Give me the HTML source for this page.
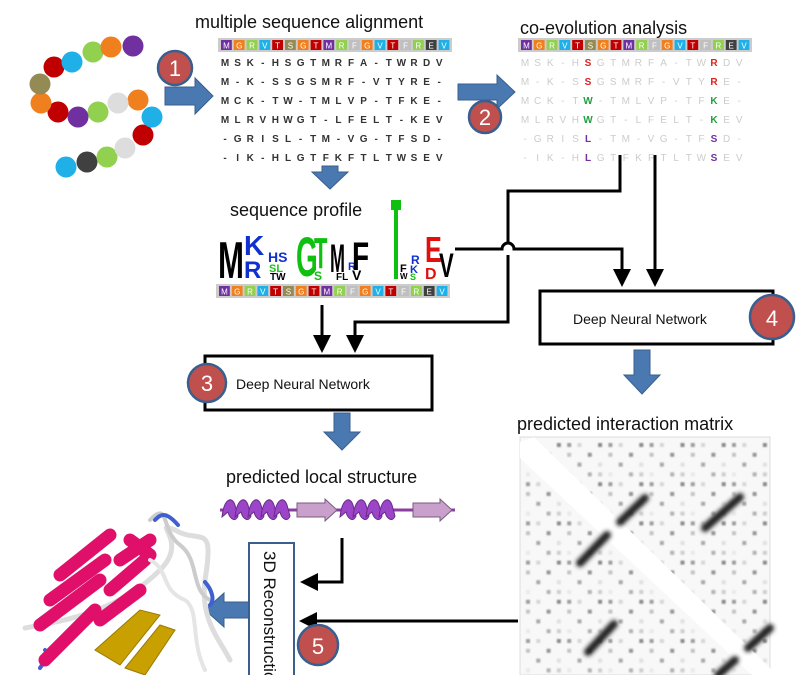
<!DOCTYPE html>
<html><head><meta charset="utf-8"><style>
html,body{margin:0;padding:0;background:#fff;width:809px;height:675px;overflow:hidden}
svg{display:block}
text{font-family:"Liberation Sans",sans-serif}
</style></head><body>
<svg width="809" height="675" viewBox="0 0 809 675" xmlns="http://www.w3.org/2000/svg">
<defs>
<marker id="ah" markerWidth="6" markerHeight="6" refX="5" refY="3" orient="auto" markerUnits="strokeWidth"><path d="M0,0 L6,3 L0,6 z" fill="#000"/></marker>
<filter id="bl" x="-20%" y="-20%" width="140%" height="140%"><feGaussianBlur stdDeviation="0.9"/></filter>
<filter id="bl2" x="-30%" y="-30%" width="160%" height="160%"><feGaussianBlur stdDeviation="2"/></filter>
<pattern id="dots" x="526" y="443" width="41.2" height="39.2" patternUnits="userSpaceOnUse">
<rect x="0" y="0" width="4" height="4" fill="#555"/><rect x="10.3" y="0" width="4" height="4" fill="#bbb"/><rect x="30.9" y="0" width="4" height="4" fill="#333"/>
<rect x="0" y="9.8" width="4" height="4" fill="#999"/><rect x="20.6" y="9.8" width="4" height="4" fill="#444"/>
<rect x="10.3" y="19.6" width="4" height="4" fill="#666"/><rect x="30.9" y="19.6" width="4" height="4" fill="#ccc"/>
<rect x="0" y="29.4" width="4" height="4" fill="#ddd"/><rect x="20.6" y="29.4" width="4" height="4" fill="#777"/><rect x="30.9" y="29.4" width="4" height="4" fill="#aaa"/>
</pattern>
</defs>

<!-- titles -->
<text x="195" y="28" font-size="18" fill="#111">multiple sequence alignment</text>
<text x="520" y="34" font-size="18" fill="#111">co-evolution analysis</text>
<text x="230" y="216" font-size="18" fill="#111">sequence profile</text>
<text x="226" y="483" font-size="18" fill="#111">predicted local structure</text>
<text x="517" y="430" font-size="18" fill="#111">predicted interaction matrix</text>

<!-- colour bars -->
<g transform="translate(220,40)">
<rect x="-2" y="-2" width="234" height="14" fill="#ccc"/>
<rect x="1" width="10.8" height="10" fill="#7030a0"/><rect x="13.8" width="10.8" height="10" fill="#f07f1e"/><rect x="26.6" width="10.8" height="10" fill="#92d050"/><rect x="39.4" width="10.8" height="10" fill="#1fb0e8"/><rect x="52.2" width="10.8" height="10" fill="#c00000"/><rect x="65" width="10.8" height="10" fill="#948a54"/><rect x="77.8" width="10.8" height="10" fill="#f07f1e"/><rect x="90.6" width="10.8" height="10" fill="#c00000"/><rect x="103.4" width="10.8" height="10" fill="#7030a0"/><rect x="116.2" width="10.8" height="10" fill="#92d050"/><rect x="129" width="10.8" height="10" fill="#bfbfbf"/><rect x="141.8" width="10.8" height="10" fill="#f07f1e"/><rect x="154.6" width="10.8" height="10" fill="#1fb0e8"/><rect x="167.4" width="10.8" height="10" fill="#c00000"/><rect x="180.2" width="10.8" height="10" fill="#bfbfbf"/><rect x="193" width="10.8" height="10" fill="#92d050"/><rect x="205.8" width="10.8" height="10" fill="#404040"/><rect x="218.6" width="10.8" height="10" fill="#1fb0e8"/>
<text y="8.5" font-size="8" fill="#fff" text-anchor="middle" x="6.4 19.2 32 44.8 57.6 70.4 83.2 96 108.8 121.6 134.4 147.2 160 172.8 185.6 198.4 211.2 224">MGRVTSGTMRFGVTFREV</text>
</g>
<g transform="translate(520,40)">
<rect x="-2" y="-2" width="234" height="14" fill="#ccc"/>
<rect x="1" width="10.8" height="10" fill="#7030a0"/><rect x="13.8" width="10.8" height="10" fill="#f07f1e"/><rect x="26.6" width="10.8" height="10" fill="#92d050"/><rect x="39.4" width="10.8" height="10" fill="#1fb0e8"/><rect x="52.2" width="10.8" height="10" fill="#c00000"/><rect x="65" width="10.8" height="10" fill="#948a54"/><rect x="77.8" width="10.8" height="10" fill="#f07f1e"/><rect x="90.6" width="10.8" height="10" fill="#c00000"/><rect x="103.4" width="10.8" height="10" fill="#7030a0"/><rect x="116.2" width="10.8" height="10" fill="#92d050"/><rect x="129" width="10.8" height="10" fill="#bfbfbf"/><rect x="141.8" width="10.8" height="10" fill="#f07f1e"/><rect x="154.6" width="10.8" height="10" fill="#1fb0e8"/><rect x="167.4" width="10.8" height="10" fill="#c00000"/><rect x="180.2" width="10.8" height="10" fill="#bfbfbf"/><rect x="193" width="10.8" height="10" fill="#92d050"/><rect x="205.8" width="10.8" height="10" fill="#404040"/><rect x="218.6" width="10.8" height="10" fill="#1fb0e8"/>
<text y="8.5" font-size="8" fill="#fff" text-anchor="middle" x="6.4 19.2 32 44.8 57.6 70.4 83.2 96 108.8 121.6 134.4 147.2 160 172.8 185.6 198.4 211.2 224">MGRVTSGTMRFGVTFREV</text>
</g>
<g transform="translate(218,286)">
<rect x="-2" y="-2" width="234" height="14" fill="#ccc"/>
<rect x="1" width="10.8" height="10" fill="#7030a0"/><rect x="13.8" width="10.8" height="10" fill="#f07f1e"/><rect x="26.6" width="10.8" height="10" fill="#92d050"/><rect x="39.4" width="10.8" height="10" fill="#1fb0e8"/><rect x="52.2" width="10.8" height="10" fill="#c00000"/><rect x="65" width="10.8" height="10" fill="#948a54"/><rect x="77.8" width="10.8" height="10" fill="#f07f1e"/><rect x="90.6" width="10.8" height="10" fill="#c00000"/><rect x="103.4" width="10.8" height="10" fill="#7030a0"/><rect x="116.2" width="10.8" height="10" fill="#92d050"/><rect x="129" width="10.8" height="10" fill="#bfbfbf"/><rect x="141.8" width="10.8" height="10" fill="#f07f1e"/><rect x="154.6" width="10.8" height="10" fill="#1fb0e8"/><rect x="167.4" width="10.8" height="10" fill="#c00000"/><rect x="180.2" width="10.8" height="10" fill="#bfbfbf"/><rect x="193" width="10.8" height="10" fill="#92d050"/><rect x="205.8" width="10.8" height="10" fill="#404040"/><rect x="218.6" width="10.8" height="10" fill="#1fb0e8"/>
<text y="8.5" font-size="8" fill="#fff" text-anchor="middle" x="6.4 19.2 32 44.8 57.6 70.4 83.2 96 108.8 121.6 134.4 147.2 160 172.8 185.6 198.4 211.2 224">MGRVTSGTMRFGVTFREV</text>
</g>

<!-- MSA -->
<g font-size="10" font-weight="bold" fill="#333" text-anchor="middle">
<text y="66" x="225 237.6 250.2 262.8 275.4 288 300.6 313.2 325.8 338.4 351 363.6 376.2 388.8 401.4 414 426.6 439.2">MSK-HSGTMRFA-TWRDV</text>
<text y="85" x="225 237.6 250.2 262.8 275.4 288 300.6 313.2 325.8 338.4 351 363.6 376.2 388.8 401.4 414 426.6 439.2">M-K-SSGSMRF-VTYRE-</text>
<text y="104" x="225 237.6 250.2 262.8 275.4 288 300.6 313.2 325.8 338.4 351 363.6 376.2 388.8 401.4 414 426.6 439.2">MCK-TW-TMLVP-TFKE-</text>
<text y="123" x="225 237.6 250.2 262.8 275.4 288 300.6 313.2 325.8 338.4 351 363.6 376.2 388.8 401.4 414 426.6 439.2">MLRVHWGT-LFELT-KEV</text>
<text y="142" x="225 237.6 250.2 262.8 275.4 288 300.6 313.2 325.8 338.4 351 363.6 376.2 388.8 401.4 414 426.6 439.2">-GRISL-TM-VG-TFSD-</text>
<text y="161" x="225 237.6 250.2 262.8 275.4 288 300.6 313.2 325.8 338.4 351 363.6 376.2 388.8 401.4 414 426.6 439.2">-IK-HLGTFKFTLTWSEV</text>
</g>
<g font-size="10" fill="#ccc" text-anchor="middle">
<text y="66" x="525 537.6 550.2 562.8 575.4 588 600.6 613.2 625.8 638.4 651 663.6 676.2 688.8 701.4 714 726.6 739.2">MSK-H GTMRFA-TW DV</text>
<text y="85" x="525 537.6 550.2 562.8 575.4 588 600.6 613.2 625.8 638.4 651 663.6 676.2 688.8 701.4 714 726.6 739.2">M-K-S GSMRF-VTY E-</text>
<text y="104" x="525 537.6 550.2 562.8 575.4 588 600.6 613.2 625.8 638.4 651 663.6 676.2 688.8 701.4 714 726.6 739.2">MCK-T -TMLVP-TF E-</text>
<text y="123" x="525 537.6 550.2 562.8 575.4 588 600.6 613.2 625.8 638.4 651 663.6 676.2 688.8 701.4 714 726.6 739.2">MLRVH GT-LFELT- EV</text>
<text y="142" x="525 537.6 550.2 562.8 575.4 588 600.6 613.2 625.8 638.4 651 663.6 676.2 688.8 701.4 714 726.6 739.2">-GRIS -TM-VG-TF D-</text>
<text y="161" x="525 537.6 550.2 562.8 575.4 588 600.6 613.2 625.8 638.4 651 663.6 676.2 688.8 701.4 714 726.6 739.2">-IK-H GTFKFTLTW EV</text>
</g>
<g font-size="10" font-weight="bold" text-anchor="middle">
<text x="588" y="66" fill="#e02020">S</text><text x="714" y="66" fill="#e02020">R</text>
<text x="588" y="85" fill="#e02020">S</text><text x="714" y="85" fill="#e02020">R</text>
<text x="588" y="104" fill="#20a040">W</text><text x="714" y="104" fill="#20a040">K</text>
<text x="588" y="123" fill="#20a040">W</text><text x="714" y="123" fill="#20a040">K</text>
<text x="588" y="142" fill="#7030a0">L</text><text x="714" y="142" fill="#7030a0">S</text>
<text x="588" y="161" fill="#7030a0">L</text><text x="714" y="161" fill="#7030a0">S</text>
</g>

<!-- blue arrows -->
<g fill="#4a78b0" stroke="#3a5f8e" stroke-width="1">
<path d="M165,87 H195 V78 L213,96 L195,114 V105 H165 z"/>
<path d="M458,84 H497 V75 L515,92 L497,109 V100 H458 z"/>
<path d="M322,166 H338 V172 H348 L330,189 L312,172 H322 z"/>
<path d="M634,350 H650 V375 H660 L642,394 L624,375 H634 z"/>
<path d="M334,413 H350 V432 H360 L342,450 L324,432 H334 z"/>
<path d="M249,602 H224 V593 L205,610 L224,627 V618 H249 z"/>
</g>

<!-- sequence logo -->
<g font-weight="bold">
<text x="218" y="278" font-size="52" fill="#000" transform="translate(218,278) scale(0.6,1) translate(-218,-278)">M</text>
<text x="244" y="255" font-size="28" fill="#1030d0">K</text>
<text x="244" y="278" font-size="24" fill="#1030d0">R</text>
<text x="268" y="262" font-size="14" fill="#1030d0">HS</text>
<text x="269" y="272" font-size="11" fill="#20c020">SL</text>
<text x="270" y="280" font-size="10" fill="#000">TW</text>
<text x="296" y="276" font-size="56" fill="#10c010" transform="translate(296,276) scale(0.5,1) translate(-296,-276)">G</text>
<text x="314" y="268" font-size="44" fill="#10c010" transform="translate(314,268) scale(0.5,1) translate(-314,-268)">T</text>
<text x="314" y="280" font-size="12" fill="#10c010">S</text>
<text x="330" y="272" font-size="40" fill="#000" transform="translate(330,272) scale(0.45,1) translate(-330,-272)">M</text>
<text x="336" y="280" font-size="10" fill="#000">FL</text>
<text x="348" y="270" font-size="11" fill="#1030d0">R</text>
<text x="352" y="270" font-size="40" fill="#000" transform="translate(352,270) scale(0.7,1) translate(-352,-270)">F</text>
<text x="352" y="280" font-size="14" fill="#000">V</text>
<rect x="391" y="200" width="10" height="10" fill="#10c010"/>
<rect x="394" y="205" width="4" height="74" fill="#10c010"/>
<text x="400" y="272" font-size="11" fill="#000">F</text>
<text x="400" y="279" font-size="8" fill="#000">W</text>
<text x="411" y="264" font-size="12" fill="#1030d0">R</text>
<text x="410" y="273" font-size="11" fill="#1030d0">K</text>
<text x="410" y="280" font-size="9" fill="#10c010">S</text>
<text x="425" y="262" font-size="36" fill="#e01010" transform="translate(425,262) scale(0.7,1) translate(-425,-262)">E</text>
<text x="425" y="279" font-size="16" fill="#e01010">D</text>
<text x="439" y="277" font-size="34" fill="#000" transform="translate(439,277) scale(0.65,1) translate(-439,-277)">V</text>
</g>

<!-- black connectors -->
<g fill="none" stroke="#000" stroke-width="3">
<path d="M620,155 V191 H508 V243 M508,255 V322 H355 V350" marker-end="url(#ah)"/>
<path d="M455,249 H502 A6,6 0 0 1 514,249 H622 V284" marker-end="url(#ah)"/>
<path d="M655,155 V284" marker-end="url(#ah)"/>
<path d="M322,305 V350" marker-end="url(#ah)"/>
<path d="M342,538 V582 H303" marker-end="url(#ah)"/>
<path d="M518,621 H302" marker-end="url(#ah)"/>
</g>

<!-- boxes -->
<rect x="540" y="291" width="233" height="53" fill="#fff" stroke="#000" stroke-width="3"/>
<text x="573" y="324" font-size="14" fill="#111">Deep Neural Network</text>
<rect x="205" y="356" width="227" height="54" fill="#fff" stroke="#000" stroke-width="3"/>
<text x="236" y="389" font-size="14" fill="#111">Deep Neural Network</text>
<rect x="249" y="543" width="45" height="140" fill="#fff" stroke="#3a5f8e" stroke-width="2"/>
<text x="264" y="551" font-size="17" fill="#111" transform="rotate(90 264 551)">3D Reconstruction</text>

<!-- badges -->
<g font-size="22" fill="#fff" text-anchor="middle">
<circle cx="175" cy="68" r="17" fill="#c0504d" stroke="#3a5f8e" stroke-width="2.5"/><text x="175" y="76">1</text>
<circle cx="485" cy="117" r="16" fill="#c0504d" stroke="#3a5f8e" stroke-width="2.5"/><text x="485" y="125">2</text>
<circle cx="207" cy="383" r="19" fill="#c0504d" stroke="#3a5f8e" stroke-width="2.5"/><text x="207" y="391">3</text>
<circle cx="772" cy="317" r="22" fill="#c0504d" stroke="#3a5f8e" stroke-width="2.5"/><text x="772" y="326">4</text>
<circle cx="318" cy="645" r="20" fill="#c0504d" stroke="#3a5f8e" stroke-width="2.5"/><text x="318" y="654">5</text>
</g>

<!-- local structure -->
<line x1="220" y1="510" x2="455" y2="510" stroke="#8a3fa0" stroke-width="3"/>
<g fill="#9b45c8" stroke="#6a2a8a" stroke-width="1">
<path d="M222,517 C224,498 232,496 235,505 L238,516 C236,522 230,520 228,512 z"/>
<path d="M235,517 C237,498 245,496 248,505 L251,516 C249,522 243,520 241,512 z"/>
<path d="M248,517 C250,498 258,496 261,505 L264,516 C262,522 256,520 254,512 z"/>
<path d="M261,517 C263,498 271,496 274,505 L277,516 C275,522 269,520 267,512 z"/>
<path d="M274,517 C276,498 284,496 287,505 L290,516 C288,522 282,520 280,512 z"/>
<path d="M340,517 C342,498 350,496 353,505 L356,516 C354,522 348,520 346,512 z"/>
<path d="M353,517 C355,498 363,496 366,505 L369,516 C367,522 361,520 359,512 z"/>
<path d="M366,517 C368,498 376,496 379,505 L382,516 C380,522 374,520 372,512 z"/>
<path d="M379,517 C381,498 389,496 392,505 L395,516 C393,522 387,520 385,512 z"/>
</g>
<path d="M297,503 H325 V499 L337,510 L325,521 V517 H297 z" fill="#c9a0cc" stroke="#7a5a80"/>
<path d="M413,503 H440 V499 L452,510 L440,521 V517 H413 z" fill="#c9a0cc" stroke="#7a5a80"/>

<!-- interaction matrix -->
<rect x="520" y="437" width="250" height="238" fill="#f8f8f8" stroke="#ddd"/>
<rect x="522" y="439" width="246" height="236" fill="url(#dots)" opacity="0.55" filter="url(#bl)"/>
<path d="M520,442 L534,437 L777,675 L752,675 L520,458 z" fill="#fff"/>
<g stroke="#222" stroke-width="8" stroke-linecap="round" filter="url(#bl2)">
<line x1="620" y1="522" x2="645" y2="498"/><line x1="580" y1="563" x2="607" y2="535"/><line x1="705" y1="528" x2="740" y2="497"/><line x1="588" y1="652" x2="614" y2="624"/><line x1="748" y1="648" x2="770" y2="628"/><line x1="718" y1="675" x2="735" y2="660"/>
</g>

<!-- beads -->
<g>
<circle cx="66" cy="167" r="10.5" fill="#1fb0e8"/><circle cx="87" cy="162" r="10.5" fill="#404040"/><circle cx="107" cy="157" r="10.5" fill="#92d050"/><circle cx="125" cy="148" r="10.5" fill="#dddddd"/><circle cx="143" cy="135" r="10.5" fill="#c00000"/><circle cx="152" cy="117" r="10.5" fill="#1fb0e8"/><circle cx="138" cy="100" r="10.5" fill="#f07f1e"/><circle cx="118" cy="103" r="10.5" fill="#dddddd"/><circle cx="98" cy="112" r="10.5" fill="#92d050"/><circle cx="78" cy="117" r="10.5" fill="#7030a0"/><circle cx="58" cy="112" r="10.5" fill="#c00000"/><circle cx="41" cy="103" r="10.5" fill="#f07f1e"/><circle cx="40" cy="84" r="10.5" fill="#948a54"/><circle cx="54" cy="67" r="10.5" fill="#c00000"/><circle cx="72" cy="62" r="10.5" fill="#1fb0e8"/><circle cx="93" cy="52" r="10.5" fill="#92d050"/><circle cx="111" cy="47" r="10.5" fill="#f07f1e"/><circle cx="133" cy="46" r="10.5" fill="#7030a0"/>
</g>

<!-- protein cartoon -->
<g fill="none" stroke-linecap="round">
<path d="M25,628 C70,620 120,610 160,570 C190,540 150,520 175,530 C200,545 215,520 205,580 C200,620 220,640 230,660" stroke="#ddd" stroke-width="5"/>
<path d="M150,520 C170,500 160,530 180,545 C200,560 190,590 210,600" stroke="#ccc" stroke-width="4"/>
<path d="M155,520 C160,515 165,510 178,525" stroke="#4060d0" stroke-width="4"/>
<path d="M205,582 C212,590 215,600 210,605" stroke="#4060d0" stroke-width="4"/>
<path d="M40,668 C45,660 50,655 45,650" stroke="#4060d0" stroke-width="4"/>
<path d="M130,540 L150,555 M60,575 L110,535 M50,600 L105,560 M40,625 L100,580 M45,660 L95,610 M120,560 L150,540 M110,590 L145,560 M100,620 L140,590" stroke="#e0106a" stroke-width="13"/>
<path d="M95,650 L140,610 L160,615 L120,665 z M125,668 L160,625 L175,630 L145,675 z" fill="#c8a000" stroke="#9a7a00" stroke-width="1"/>
<path d="M150,560 C170,570 160,590 185,600 C200,610 190,640 205,670" stroke="#e5e5e5" stroke-width="4"/>
</g>
</svg>
</body></html>
